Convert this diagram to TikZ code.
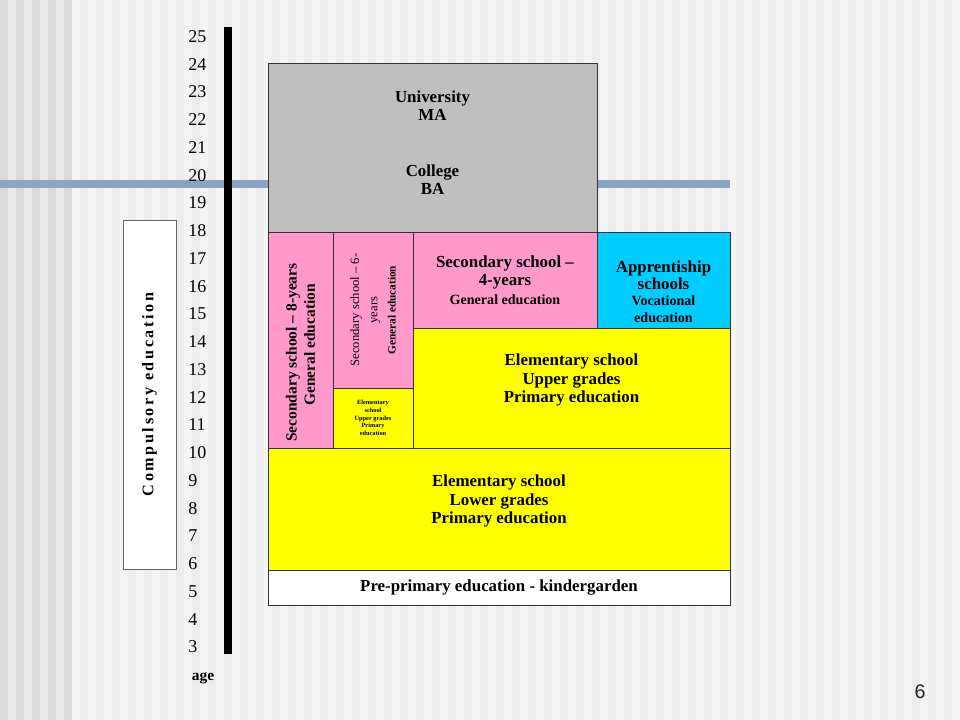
\documentclass[tikz,border=0pt]{standalone}
\usepackage{fontspec}
\setmainfont{Liberation Serif}
\newfontfamily\spacedfont[LetterSpace=16]{Liberation Serif}
\newfontfamily\pagefont{Liberation Sans}
\usepackage{tikz}
\usetikzlibrary{positioning}
\definecolor{mgray}{rgb}{0.75, 0.75, 0.75}
\definecolor{mpink}{rgb}{1, 0.6, 0.8}
\definecolor{mcyan}{rgb}{0, 0.8, 1}
\definecolor{myellow}{rgb}{1, 1, 0}
\definecolor{mbar}{rgb}{0.54, 0.64, 0.76}
\definecolor{bgdark}{rgb}{0.855, 0.855, 0.855}
\definecolor{bgmid}{rgb}{0.91, 0.91, 0.91}
\definecolor{bglight}{rgb}{0.957, 0.957, 0.957}
\definecolor{bgstripe}{rgb}{0.925, 0.925, 0.925}
\tikzset{box/.style = {draw=black!80, line width=0.6pt, inner sep=0pt, align=center,
                       font=\bfseries\fontsize{12}{13}\selectfont},
         agenum/.style = {anchor=west, inner sep=0pt, font=\fontsize{12.8}{13}\selectfont},
         agelabel/.style = {anchor=base, inner sep=0pt, font=\bfseries\fontsize{11}{13}\selectfont},
         pagenum/.style = {inner sep=0pt, text=black!85, font=\pagefont\fontsize{14}{16}\selectfont}}
\newcommand{\minor}[1]{{\fontsize{10}{12}\selectfont #1}}

\begin{document}
\begin{tikzpicture}[x=0.025cm, y=-0.025cm]
    \useasboundingbox (0, 0) rectangle (960, 720);

    % striped background
    \fill [bgdark] (0, 0) rectangle (72, 720);
    \fill [bglight] (72, 0) rectangle (960, 720);
    \foreach \x in {8, 24, ..., 56} \fill [bgmid] (\x, 0) rectangle +(8, 720);
    \foreach \x in {80, 96, ..., 944} \fill [bgstripe] (\x, 0) rectangle +(8, 720);

    \fill [mbar] (0, 180) rectangle (730, 188);
    \fill [black] (224, 27) rectangle (232, 654);

    % age scale
    \foreach \a in {3, ..., 25}
        \node [agenum] (age\a) at (188, {647 - (\a - 3) * 27.75}) {\a};
    \node [agelabel] (age) at (203, 680) {age};

    \node [box, fill=white, draw=black!60, rotate=90, minimum width=8.725cm, minimum height=1.325cm,
           font=\spacedfont\bfseries\fontsize{11.5}{13}\selectfont] (compulsory) at (149.5, 394.5) {Compulsory education};

    % school levels
    \node [box, fill=mgray, minimum width=8.225cm, minimum height=4.225cm, text depth=7pt] (uni) at (432.5, 147.5)
          {University\\MA\\[27pt]College\\BA};
    \node [box, fill=mpink, rotate=90, minimum width=5.4cm, minimum height=1.625cm,
           font=\bfseries\fontsize{11}{13}\selectfont] (sec8) at (300.5, 340)
          {Secondary school -- 8-years\kern18pt\\General education\kern7pt};
    \node [box, fill=mpink, rotate=90, minimum width=3.9cm, minimum height=2cm,
           font=\mdseries\fontsize{9}{13}\selectfont] (sec6) at (373, 310)
          {Secondary school -- 6-\\years\\{\bfseries\fontsize{8}{10}\selectfont General education}};
    \node [box, fill=myellow, minimum width=2cm, minimum height=1.5cm,
           font=\bfseries\fontsize{4.5}{5.5}\selectfont] (elemsmall) at (373, 418)
          {Elementary\\school\\Upper grades\\Primary\\education};
    \node [box, fill=mpink, minimum width=4.6cm, minimum height=2.4cm] (sec4) at (505, 280)
          {Secondary school --\\4-years\\\minor{General education}};
    \node [box, fill=mcyan, minimum width=3.325cm, minimum height=2.4cm,
           font=\bfseries\fontsize{12}{12}\selectfont] (appr) at (663.5, 280)
          {\mbox{}\\[13pt]Apprentiship\\schools\\\minor{Vocational}\\\minor{education}};
    \node [box, fill=myellow, minimum width=7.925cm, minimum height=3cm, text depth=14pt] (upper) at (571.5, 388)
          {Elementary school\\Upper grades\\Primary education};
    \node [box, fill=myellow, minimum width=11.55cm, minimum height=3.05cm, text depth=14pt] (lower) at (499, 509)
          {Elementary school\\Lower grades\\Primary education};
    \node [box, fill=white, minimum width=11.55cm, minimum height=0.875cm] (pre) at (499, 587.5)
          {Pre-primary education - kindergarden};

    \node [pagenum] (page) at (920, 692) {6};
\end{tikzpicture}
\end{document}
